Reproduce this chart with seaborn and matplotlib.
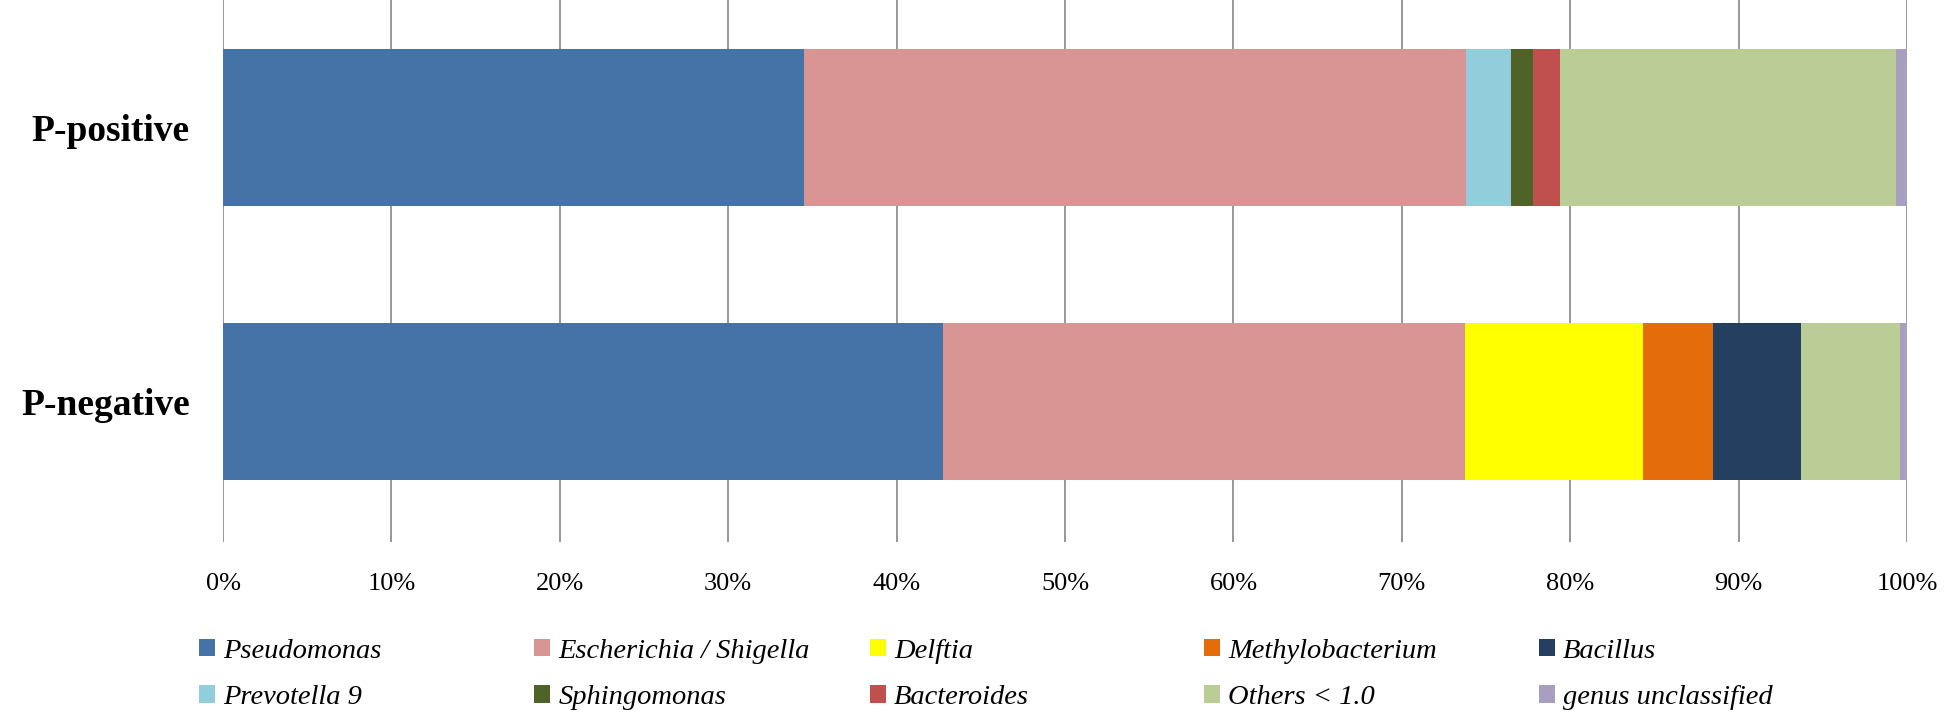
import numpy as np
import pandas as pd
import seaborn as sns
import matplotlib.pyplot as plt
from matplotlib.patches import Patch

# data (percent of reads)
samples = ["P-positive", "P-negative"]
genera = ["Pseudomonas", "Escherichia / Shigella", "Delftia", "Methylobacterium",
          "Bacillus", "Prevotella 9", "Sphingomonas", "Bacteroides",
          "Others < 1.0", "genus unclassified"]
p_positive = [34.5, 39.3, 0.0, 0.0, 0.0, 2.7, 1.3, 1.6, 19.95, 0.65]
p_negative = [42.75, 31.0, 10.55, 4.2, 5.2, 0.0, 0.0, 0.0, 5.9, 0.4]
colors = ["#4573A7", "#D99594", "#FFFF00", "#E46C0A", "#243F60",
          "#92CDDC", "#4F6228", "#C0504D", "#BACD97", "#A79EC0"]

df = pd.DataFrame({"P-positive": p_positive, "P-negative": p_negative}, index=genera).T
cum = df.cumsum(axis=1)

sns.set_theme(style="white")
plt.rcParams["font.family"] = ["Liberation Serif", "DejaVu Serif"]
plt.rcParams["text.color"] = "black"
plt.rcParams["xtick.color"] = "black"
plt.rcParams["ytick.color"] = "black"

fig = plt.figure(figsize=(19.46, 7.16), dpi=100)
ax = fig.add_axes([0.1146, 0.243, 0.8654, 0.757])

# draw cumulative bars from the outermost inward so each segment shows
for genus, color in reversed(list(zip(genera, colors))):
    d = pd.DataFrame({"sample": samples, "value": cum.loc[samples, genus].values})
    sns.barplot(data=d, x="value", y="sample", orient="h", color=color,
                width=0.574, saturation=1, linewidth=0, ax=ax, zorder=2)

ax.set_xlim(0, 100)
ax.set_ylim(1.515, -0.466)
ax.set_xticks(np.arange(0, 101, 10))
ax.set_xticklabels([f"{v}%" for v in range(0, 101, 10)], fontsize=19)
ax.tick_params(axis="x", length=0, pad=22)
ax.tick_params(axis="y", length=0, pad=24)
for lab in ax.get_yticklabels():
    lab.set_fontsize(27)
    lab.set_fontweight("bold")
ax.set_xlabel("")
ax.set_ylabel("")
ax.grid(axis="x", color="#868686", linewidth=1.2, zorder=0)
ax.set_axisbelow(True)
sns.despine(ax=ax, left=True, bottom=True, top=True, right=True)

# legend: 5 evenly spaced columns, two rows each
col_x = [0.1023, 0.2744, 0.447, 0.6187, 0.7908]
for c, x in enumerate(col_x):
    idx = [c, c + 5]
    handles = [Patch(facecolor=colors[i], edgecolor="none", label=genera[i]) for i in idx]
    leg = fig.legend(handles=handles, ncol=1, loc="center left",
                     bbox_to_anchor=(x, 0.058), frameon=False,
                     prop={"style": "italic", "size": 20.5},
                     handlelength=0.55, handleheight=0.55, handletextpad=0.3,
                     labelspacing=0.75, borderaxespad=0, borderpad=0)

fig.savefig("out.png", dpi=100)
